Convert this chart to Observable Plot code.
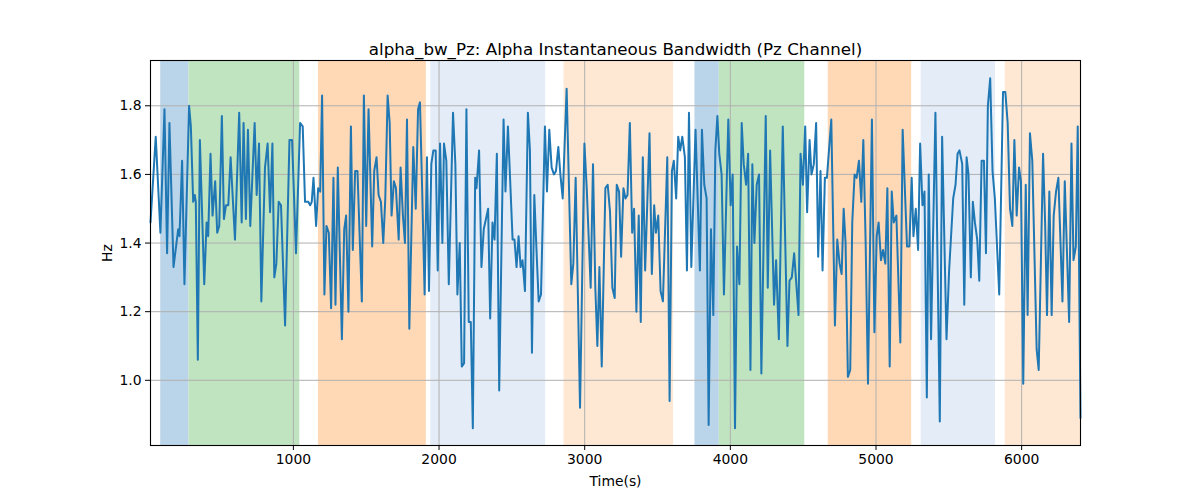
<!DOCTYPE html>
<html><head><meta charset="utf-8">
<script src="https://cdn.jsdelivr.net/npm/d3@7"></script>
<script src="https://cdn.jsdelivr.net/npm/@observablehq/plot@0.6"></script>
<style>body{margin:0;background:#fff;font-family:"DejaVu Sans",sans-serif;}</style>
</head><body><div id="chart"></div>
<script>
const titleText = "alpha_bw_Pz: Alpha Instantaneous Bandwidth (Pz Channel)";
const xLabel = "Time(s)";
const yLabel = "Hz";
const xTicks = [1000, 2000, 3000, 4000, 5000, 6000];
const yTicks = [1.0, 1.2, 1.4, 1.6, 1.8];

const time = [
  19,55,87,115,133,149,177,209,218,236,252,284,296,312,323,330,344,358,388,404,
  415,431,445,463,477,491,509,523,537,553,569,599,628,645,658,674,688,704,734,748,
  764,780,805,823,840,856,869,883,899,915,943,973,991,1018,1046,1064,1080,1103,1115,1126,
  1138,1156,1170,1184,1197,1213,1227,1243,1259,1275,1289,1305,1333,1349,1362,1378,1395,1408,1424,1440,
  1470,1484,1500,1516,
  1541,1555,1571,1585,1601,1617,1631,1647,1661,1674,1690,1704,1723,1736,1752,1766,1780,1796,1823,1840,
  1856,1869,1885,1901,1917,1931,1947,1961,1977,1991,2007,2023,2034,2050,2067,2096,2112,2126,2142,2156,
  2172,2188,2204,2218,2232,2248,2257,2275,2291,2307,2337,2351,2367,2381,2397,2413,2443,2456,2473,2505,
  2518,2532,2546,2560,2573,2590,2610,2624,2638,2654,2670,2684,2700,2727,2741,2757,2773,2789,2803,2819,
  2833,2849,2876,2908,2922,2938,2968,2998,3014,3041,3057,3073,3087,3101,3117,
  3142,3158,3174,3190,3206,3220,3236,3250,3266,3280,3294,3310,3326,3339,3355,3371,3385,3399,3415,3445,
  3461,3477,3489,3505,3521,3537,3567,3583,3599,3612,3628,3642,3656,3670,3688,3702,3716,3732,3761,3791,
  3805,3821,3837,3851,3867,3883,3897,3911,3924,3940,3956,3986,4002,4016,4032,4046,4062,4078,4092,4108,
  4122,4138,4151,4165,4181,4197,4213,4243,4257,4273,4300,4314,4333,4360,4392,4406,4422,4438,4468,4482,
  4498,4514,4527,4544,4557,4573,4589,4603,4619,4633,4649,4663,4693,
  4718,4734,4750,4764,4778,4791,4807,4823,4837,4853,4867,4883,4899,4913,4929,4945,4972,4989,5005,5018,
  5034,5048,5064,5078,5094,5108,5122,5140,5167,5183,5213,5229,5245,5257,5273,5289,5303,5319,5333,5349,
  5362,5378,5408,5438,5454,5484,5502,5530,5546,5560,5573,5592,5606,5622,5635,5651,5665,5679,5695,5709,
  5725,5741,5755,5768,5784,5800,5816,5846,5872,5888,5904,5920,5936,5950,5966,5982,5995,6011,6028,6041,
  6057,6073,6103,6117,6147,6161,6174,6190,6206,6220,6236,6252,6280,6296,6326,6342,6356,6372,6385,6404
];

const bandwidth = [
  1.46,1.71,1.43,1.79,1.37,1.75,1.33,1.44,1.42,1.64,1.28,1.80,1.74,1.52,1.54,1.52,1.06,1.70,1.28,1.46,
  1.42,1.66,1.48,1.58,1.43,1.45,1.77,1.47,1.51,1.51,1.65,1.41,1.78,1.46,1.75,1.47,1.73,1.45,1.75,1.54,
  1.69,1.23,1.62,1.69,1.49,1.69,1.30,1.34,1.52,1.51,1.16,1.70,1.70,1.37,1.75,1.74,1.52,1.52,1.51,1.52,
  1.59,1.45,1.56,1.55,1.83,1.25,1.45,1.43,1.21,1.59,1.22,1.62,1.12,1.44,1.48,1.20,1.74,1.38,1.61,1.61,
  1.23,1.83,1.45,1.79,
  1.39,1.61,1.65,1.54,1.52,1.40,1.53,1.83,1.75,1.48,1.58,1.56,1.41,1.62,1.48,1.40,1.76,1.15,1.68,1.50,
  1.79,1.81,1.54,1.25,1.65,1.26,1.63,1.67,1.67,1.32,1.69,1.40,1.69,1.64,1.28,1.78,1.63,1.25,1.40,1.04,
  1.05,1.79,1.17,1.17,0.86,1.59,1.56,1.67,1.33,1.44,1.50,1.18,1.46,1.41,1.66,0.97,1.76,1.55,1.74,1.41,
  1.41,1.33,1.42,1.33,1.35,1.26,1.78,1.67,1.08,1.54,1.37,1.23,1.25,1.74,1.55,1.73,1.62,1.60,1.61,1.68,
  1.60,1.53,1.85,1.28,1.34,1.59,0.92,1.69,1.56,1.27,1.63,1.27,1.10,1.33,1.04,
  1.56,1.57,1.49,1.27,1.24,1.57,1.55,1.36,1.56,1.53,1.54,1.75,1.43,1.50,1.20,1.48,1.17,1.65,1.32,1.72,
  1.31,1.51,1.43,1.48,1.26,1.23,1.65,0.94,1.61,1.64,1.53,1.71,1.67,1.71,1.65,1.32,1.78,1.33,1.73,1.32,
  1.73,1.57,1.53,0.87,1.44,1.19,1.67,1.77,1.66,1.60,1.25,1.76,1.51,1.60,0.86,1.39,1.28,1.75,1.63,1.57,
  1.66,1.03,1.63,1.40,1.57,1.60,1.02,1.77,1.27,1.67,1.22,1.35,1.12,1.74,1.10,1.29,1.30,1.37,1.19,1.66,
  1.57,1.74,1.49,1.70,1.60,1.63,1.75,1.36,1.61,1.32,1.59,1.59,1.76,
  1.16,1.41,1.34,1.31,1.50,1.40,1.01,1.03,1.46,1.60,1.59,1.64,1.52,1.70,1.40,0.99,1.76,1.14,1.42,1.46,
  1.35,1.38,1.34,1.56,1.04,1.55,1.46,1.48,1.11,1.73,1.39,1.39,1.59,1.42,1.50,1.38,1.69,1.51,1.55,0.95,
  1.60,1.12,1.78,0.88,1.71,1.12,1.32,1.53,1.57,1.66,1.67,1.63,1.22,1.65,1.60,1.30,1.52,1.46,1.41,1.29,
  1.64,1.64,1.37,1.80,1.88,1.61,1.53,1.25,1.84,1.84,1.75,1.50,1.45,1.70,1.48,1.62,1.58,0.99,1.57,1.19,
  1.72,1.64,1.09,1.03,1.66,1.46,1.19,1.55,1.19,1.48,1.55,1.59,1.23,1.58,1.17,1.69,1.35,1.39,1.74,0.89
];

// shaded segments (seconds) and their state category
const bandStart = [89, 284, 1172, 1943, 2858, 3757, 3924, 4672, 5310, 5887];
const bandEnd   = [284, 1044, 1913, 2732, 3610, 3924, 4511, 5245, 5821, 6404];
const bandState = ["A", "B", "C", "D", "E", "A", "B", "C", "D", "E"];

const series = time.map((t, i) => ({t, v: bandwidth[i]}));
const bands = bandStart.map((s, i) => ({s, e: bandEnd[i], k: bandState[i]}));

const stateColors = {A: "#bad4e9", B: "#c0e3c0", C: "#ffd8b6", D: "#e4edf7", E: "#fee8d4"};

const chart = Plot.plot({
  width: 1200,
  height: 500,
  marginLeft: 150,
  marginRight: 120,
  marginTop: 60,
  marginBottom: 55,
  style: {fontFamily: "DejaVu Sans, sans-serif", fontSize: "13.9px", color: "black", background: "white"},
  x: {domain: [19, 6404]},
  y: {domain: [0.81, 1.932]},
  marks: [
    Plot.rect(bands, {x1: "s", x2: "e", fill: d => stateColors[d.k]}),
    Plot.gridX(xTicks, {stroke: "#b0b0b0", strokeOpacity: 1, strokeWidth: 1}),
    Plot.gridY(yTicks, {stroke: "#b0b0b0", strokeOpacity: 1, strokeWidth: 1}),
    Plot.line(series, {x: "t", y: "v", stroke: "#1f77b4", strokeWidth: 2}),
    Plot.frame({stroke: "black", strokeWidth: 1.1}),
    Plot.axisX({ticks: xTicks, tickFormat: d3.format("d"), tickSize: 5, tickPadding: 4,
      label: xLabel, labelAnchor: "center", labelArrow: "none", labelOffset: 40, fontSize: 13.9}),
    Plot.axisY({ticks: yTicks, tickFormat: d3.format(".1f"), tickSize: 5, tickPadding: 4,
      label: yLabel, labelAnchor: "center", labelArrow: "none", labelOffset: 48, fontSize: 13.9}),
    Plot.text([titleText], {frameAnchor: "top", dy: -17, fontSize: 16.7, fill: "black"})
  ]
});
document.getElementById("chart").appendChild(chart);
</script>
</body></html>
